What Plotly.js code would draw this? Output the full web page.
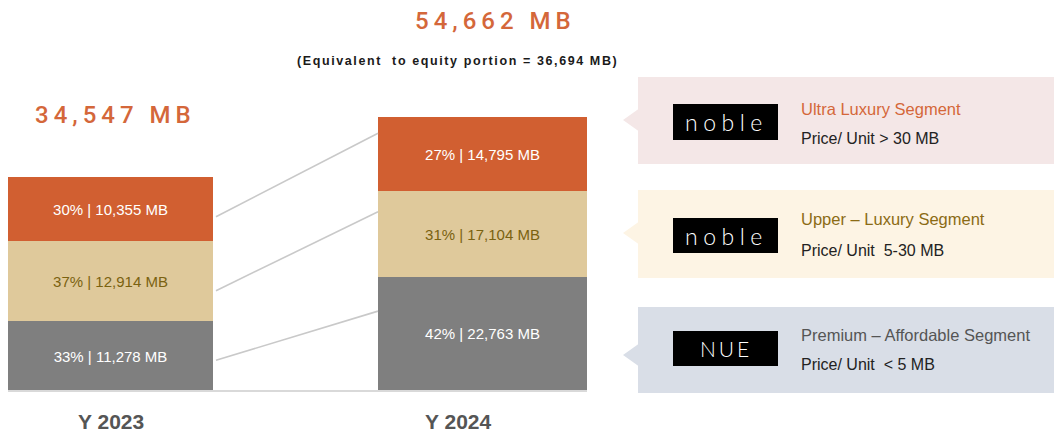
<!DOCTYPE html>
<html><head><meta charset="utf-8">
<script src="https://cdn.plot.ly/plotly-3.0.1.min.js"></script>
<style>html,body{margin:0;padding:0;background:#fff}#chart{width:1063px;height:441px}</style>
</head><body><div id="chart"></div>
<script>
// ---- data ----
const years = ['Y 2023', 'Y 2024'];
const segments = ['Premium – Affordable', 'Upper – Luxury', 'Ultra Luxury'];
const values2023 = [11278, 12914, 10355];
const values2024 = [22763, 17104, 14795];
const pct2023 = [33, 37, 30];
const pct2024 = [42, 31, 27];
const totals = [34547, 54662];
const equityPortion = 36694;
const panelTitles = ['Ultra Luxury Segment', 'Upper – Luxury Segment', 'Premium – Affordable Segment'];
const panelPrices = ['Price/ Unit > 30 MB', 'Price/ Unit  5-30 MB', 'Price/ Unit  < 5 MB'];
const panelLogos = ['noble', 'noble', 'NUE'];

// ---- style / geometry ----
const W = 1063, H = 441;
const FONT = 'Liberation Sans, Arial, Helvetica, sans-serif';
const segColors = ['#7f7f7f', '#dfc99b', '#d15f31'];
const segTextColors = ['#ffffff', '#7a6210', '#ffffff'];
const orange = '#d4673a';
const plotBottomPx = 391, plotHeightPx = 391;
const barPx = [214, 274];            // drawn (not-to-scale) bar heights in the original
const yd0 = (H - plotBottomPx) / H, yd1 = 1;
const sum = a => a.reduce((s, v) => s + v, 0);
const R1 = sum(values2023) * plotHeightPx / barPx[0];
const R2 = sum(values2024) * plotHeightPx / barPx[1];
const unitPx = 372, center0Px = 110.5;
const xr = [(0 - center0Px) / unitPx, (600 - center0Px) / unitPx];
const w1 = 205 / unitPx, w2 = 209 / unitPx;
const X = p => p / W, Y = p => 1 - p / H;
const fmt = v => v.toLocaleString('en-US');

const traces = [];
segments.forEach((s, i) => {
  traces.push({
    type: 'bar', x: [years[0]], y: [values2023[i]], yaxis: 'y', width: [w1],
    name: s, marker: {color: segColors[i], line: {width: 0}},
    text: [pct2023[i] + '% | ' + fmt(values2023[i]) + ' MB'],
    textposition: 'inside', insidetextanchor: 'middle', textangle: 0, constraintext: 'none',
    insidetextfont: {family: FONT, size: 15, color: segTextColors[i]},
    hoverinfo: 'skip', showlegend: false
  });
  traces.push({
    type: 'bar', x: [years[1]], y: [values2024[i]], yaxis: 'y2', width: [w2],
    name: s, marker: {color: segColors[i], line: {width: 0}},
    text: [pct2024[i] + '% | ' + fmt(values2024[i]) + ' MB'],
    textposition: 'inside', insidetextanchor: 'middle', textangle: 0, constraintext: 'none',
    insidetextfont: {family: FONT, size: 15, color: segTextColors[i]},
    hoverinfo: 'skip', showlegend: false
  });
});

// connector lines
const startFrac = [0.44, 0.38, 0.38];
const endFrac = [0.70, 0.76, 0.78];
const shapes = [];
let b1 = 0, b2 = 0;
segments.forEach((s, i) => {
  const v1 = b1 + startFrac[i] * values2023[i];
  const v2 = b2 + endFrac[i] * values2024[i];
  shapes.push({type: 'line', xref: 'x', yref: 'paper',
    x0: w1 / 2 + 3 / unitPx, x1: 1 - w2 / 2,
    y0: yd0 + (v1 / R1) * (yd1 - yd0), y1: yd0 + (v2 / R2) * (yd1 - yd0),
    line: {color: '#c9c9c9', width: 1.6}});
  b1 += values2023[i]; b2 += values2024[i];
});
// baseline
shapes.push({type: 'line', xref: 'x', yref: 'paper', x0: -w1 / 2, x1: 1 + w2 / 2,
  y0: yd0, y1: yd0, line: {color: '#d9d9d9', width: 2}});

// right-hand panels
const panelTop = [77, 190, 307], panelBot = [164, 278, 393];
const pointerY = [120, 233, 355];
const panelFill = ['#f4e7e7', '#fdf4e4', '#d9dee7'];
const titleColors = ['#d4673a', '#8b6b14', '#555555'];
const logoTop = [104, 218, 331], logoBot = [140, 253, 366];
panelTitles.forEach((t, i) => {
  shapes.push({type: 'rect', xref: 'paper', yref: 'paper', x0: X(638), x1: X(1054),
    y0: Y(panelBot[i]), y1: Y(panelTop[i]), fillcolor: panelFill[i], line: {width: 0}, layer: 'below'});
  shapes.push({type: 'path', xref: 'paper', yref: 'paper',
    path: `M${X(623)},${Y(pointerY[i])} L${X(638.5)},${Y(pointerY[i] - 11)} L${X(638.5)},${Y(pointerY[i] + 11)} Z`,
    fillcolor: panelFill[i], line: {width: 0}, layer: 'below'});
  shapes.push({type: 'rect', xref: 'paper', yref: 'paper', x0: X(673), x1: X(778),
    y0: Y(logoBot[i]), y1: Y(logoTop[i]), fillcolor: '#000000', line: {width: 0}});
});

const annotations = [];
const ls = (txt, px) => `<span style="letter-spacing:${px}px">${txt}</span>`;
const bigFont = {family: 'Roboto, Liberation Sans, sans-serif', size: 24, color: orange, weight: 500};
annotations.push({xref: 'paper', yref: 'paper', x: X(413), y: Y(21), xanchor: 'left', yanchor: 'middle',
  text: ls(fmt(totals[1]) + ' MB', 5), showarrow: false, font: bigFont});
annotations.push({xref: 'paper', yref: 'paper', x: X(33), y: Y(115), xanchor: 'left', yanchor: 'middle',
  text: ls(fmt(totals[0]) + ' MB', 5), showarrow: false, font: bigFont});
annotations.push({xref: 'paper', yref: 'paper', x: X(295), y: Y(61), xanchor: 'left', yanchor: 'middle',
  text: ls('<b>(Equivalent  to equity portion = ' + fmt(equityPortion) + ' MB)</b>', 1.6), showarrow: false,
  font: {family: FONT, size: 12.5, color: '#1a1a1a'}});
years.forEach((y, i) => {
  annotations.push({xref: 'x', yref: 'paper', x: y, y: Y(421), xshift: i === 0 ? 0 : -24,
    xanchor: 'center', yanchor: 'middle', text: '<b>' + y + '</b>', showarrow: false,
    font: {family: FONT, size: 21, color: '#555555'}});
});
const titleY = [109, 219, 335], priceY = [138, 250, 364];
panelTitles.forEach((t, i) => {
  annotations.push({xref: 'paper', yref: 'paper', x: X(799), y: Y(titleY[i]), xanchor: 'left', yanchor: 'middle',
    text: t, showarrow: false, font: {family: FONT, size: 16.5, color: titleColors[i]}});
  annotations.push({xref: 'paper', yref: 'paper', x: X(799), y: Y(priceY[i]), xanchor: 'left', yanchor: 'middle',
    text: panelPrices[i], showarrow: false, font: {family: FONT, size: 16, color: '#222222'}});
  annotations.push({xref: 'paper', yref: 'paper', x: X(726), y: Y((logoTop[i] + logoBot[i]) / 2), xanchor: 'center', yanchor: 'middle',
    text: ls(panelLogos[i], panelLogos[i] === 'NUE' ? 3 : 5.5), showarrow: false,
    font: {family: 'Lato, Liberation Sans, sans-serif', size: panelLogos[i] === 'NUE' ? 21 : 23, color: '#ffffff', weight: 300}});
});

const layout = {
  width: W, height: H, margin: {l: 0, r: 0, t: 0, b: 0},
  paper_bgcolor: '#ffffff', plot_bgcolor: 'rgba(0,0,0,0)',
  barmode: 'stack', showlegend: false,
  xaxis: {domain: [0, 600 / W], range: xr, type: 'category', showticklabels: false, showgrid: false, zeroline: false, showline: false, fixedrange: true},
  yaxis: {domain: [yd0, yd1], range: [0, R1], visible: false, fixedrange: true},
  yaxis2: {domain: [yd0, yd1], range: [0, R2], overlaying: 'y', visible: false, fixedrange: true},
  shapes: shapes, annotations: annotations, font: {family: FONT}
};
Plotly.newPlot('chart', traces, layout, {displayModeBar: false, staticPlot: true});
</script></body></html>
